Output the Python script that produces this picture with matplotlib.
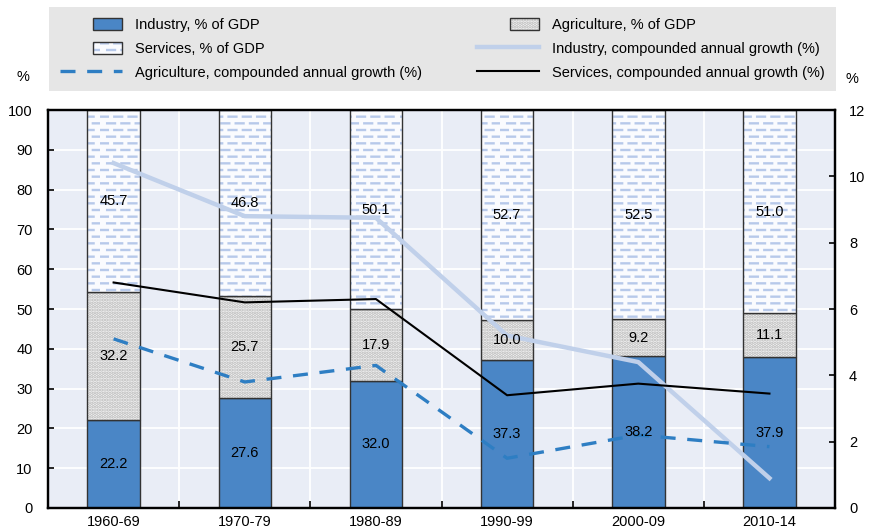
import numpy as np
import matplotlib
matplotlib.use("Agg")
import matplotlib.pyplot as plt
import matplotlib.hatch as mhatch
from matplotlib.path import Path
from matplotlib.patches import Rectangle
from matplotlib.container import BarContainer
from matplotlib.legend_handler import HandlerPatch, update_from_first_child
from matplotlib.colors import to_rgba

##########################################
# Data
periods = ["1960-69", "1970-79", "1980-89", "1990-99", "2000-09", "2010-14"]
industry_share = [22.2, 27.6, 32.0, 37.3, 38.2, 37.9]
agriculture_share = [32.2, 25.7, 17.9, 10.0, 9.2, 11.1]
services_share = [45.7, 46.8, 50.1, 52.7, 52.5, 51.0]

industry_growth = [10.4, 8.8, 8.75, 5.2, 4.4, 0.9]
agriculture_growth = [5.1, 3.8, 4.3, 1.5, 2.2, 1.85]
services_growth = [6.8, 6.2, 6.3, 3.4, 3.75, 3.45]

##########################################
# Style
plt.rcParams['font.family'] = ['Liberation Sans', 'DejaVu Sans']
plt.rcParams['font.size'] = 10.5
plt.rcParams['hatch.linewidth'] = 1.7


##########################################
# Dashed horizontal hatch (replaces the plain '-' hatch)
class DashHatch(mhatch.HatchPatternBase):
    def __init__(self, hatch, density):
        self.rows = 15 if '-' in hatch else 0
        self.cols = 7
        self.num_vertices = self.rows * self.cols * 2

    def set_vertices_and_codes(self, vertices, codes):
        k = 0
        for r in range(self.rows):
            y = (r + 0.5) / self.rows
            off = 0.5 / self.cols if r % 2 else 0.0
            for c in range(self.cols):
                x0 = c / self.cols + off
                vertices[k] = (x0, y)
                vertices[k + 1] = (x0 + 0.55 / self.cols, y)
                codes[k] = Path.MOVETO
                codes[k + 1] = Path.LINETO
                k += 2


mhatch._hatch_types = [DashHatch if t is mhatch.HorizontalHatch else t
                       for t in mhatch._hatch_types]


# legend box for bars: narrow rectangle at the right end of the handle
def small_rect(legend, orig_handle, xdescent, ydescent, width, height, fontsize):
    rw = width * 0.47
    return Rectangle((-xdescent + width - rw, -ydescent), rw, height)


##########################################
# Figure
fig = plt.figure(figsize=(8.73, 5.29), dpi=100)
ax = fig.add_axes([0.055, 0.0397, 0.9015, 0.7523])
ax.set_facecolor('#e9edf6')

x = np.arange(len(periods))
w = 0.4
edge = '#333333'

b_ind = ax.bar(x, industry_share, w, color='#4a86c6', edgecolor=edge, lw=1,
               label='Industry, % of GDP')
b_agr = ax.bar(x, agriculture_share, w, bottom=industry_share, color='#f3f3f3',
               edgecolor=edge, lw=1, hatch='.....', label='Agriculture, % of GDP')
bottom2 = np.array(industry_share) + np.array(agriculture_share)
b_ser = ax.bar(x, services_share, w, bottom=bottom2, color='#fafbfe',
               edgecolor=edge, lw=1, hatch='-', label='Services, % of GDP')
for p in b_agr:
    p._hatch_color = to_rgba('#b9b9b9')
for p in b_ser:
    p._hatch_color = to_rgba('#b7c9ea')

ax.set_xlim(-0.5, len(periods) - 0.5)
ax.set_ylim(0, 100)
ax.set_yticks(np.arange(0, 101, 10))
ax.set_xticks(x)
ax.set_xticklabels(periods)
ax.set_xticks(x[:-1] + 0.5, minor=True)
ax.tick_params(axis='x', which='major', length=0, pad=5)
ax.tick_params(axis='x', which='minor', direction='in', length=5, width=1.2)
ax.tick_params(axis='y', direction='in', length=4, width=1.2, pad=11)
ax.grid(axis='y', which='major', color='white', lw=1.3)
ax.grid(axis='x', which='minor', color='white', lw=1.3)
ax.set_axisbelow(True)
for s in ax.spines.values():
    s.set_color('black')
    s.set_linewidth(1.6)

# growth lines on the right axis
ax2 = ax.twinx()
ax2.set_ylim(0, 12)
ax2.set_yticks(np.arange(0, 13, 2))
ax2.tick_params(axis='y', direction='in', length=4, width=1.2, pad=10)
for s in ax2.spines.values():
    s.set_color('black')
    s.set_linewidth(1.6)

l_ind, = ax2.plot(x, industry_growth, color='#c0d0ea', lw=3.2,
                  label='Industry, compounded annual growth (%)')
l_agr, = ax2.plot(x, agriculture_growth, color='#2e7ec3', lw=2.4, ls=(0, (4.5, 3.5)),
                  label='Agriculture, compounded annual growth (%)')
l_ser, = ax2.plot(x, services_growth, color='black', lw=1.5,
                  label='Services, compounded annual growth (%)')

# value labels on top of everything
ax3 = ax.twinx()
ax3.set_ylim(0, 100)
ax3.axis('off')
for c in (b_ind, b_agr, b_ser):
    ax3.bar_label(c, label_type='center', fmt='%.1f')

fig.text(0.026, 0.855, '%', ha='center', va='center')
fig.text(0.976, 0.85, '%', ha='center', va='center')

handles = [b_ind, b_ser, l_agr, b_agr, l_ind, l_ser]
bar_handler = HandlerPatch(patch_func=small_rect, update_func=update_from_first_child)
leg = fig.legend(handles, [h.get_label() for h in handles], ncol=2, mode='expand',
                 loc='upper left', bbox_to_anchor=(0.0561, 0.0, 0.9015, 0.987),
                 frameon=True, fancybox=False, borderaxespad=0,
                 handlelength=4.25, handleheight=0.9, labelspacing=0.68,
                 handletextpad=0.9, borderpad=0.75,
                 handler_map={BarContainer: bar_handler})
leg.get_frame().set_facecolor('#e6e6e6')
leg.get_frame().set_edgecolor('none')
leg.get_frame().set_alpha(1)

fig.savefig('out.png', dpi=100)
